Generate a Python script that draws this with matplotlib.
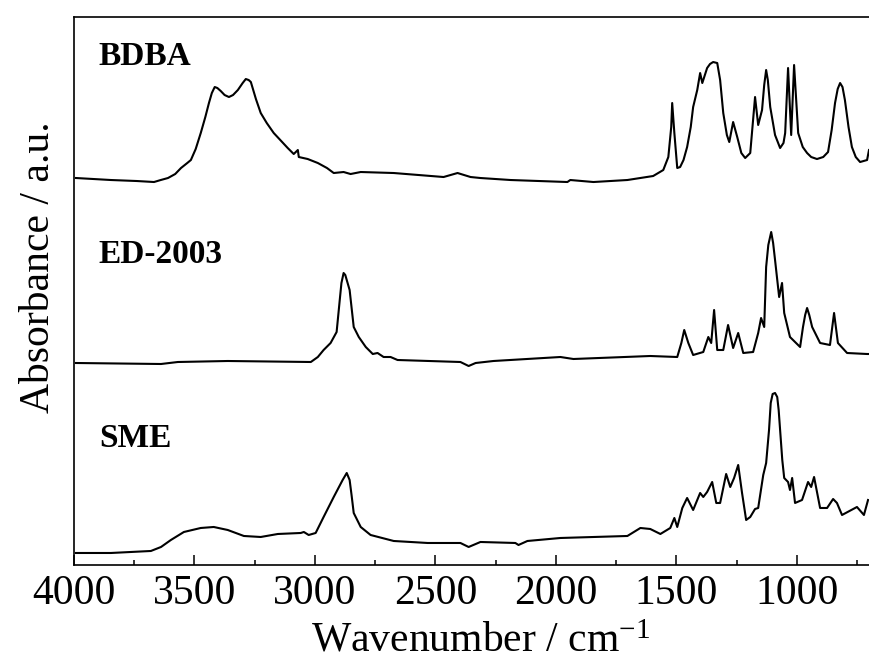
import matplotlib
matplotlib.use("Agg")
import matplotlib.pyplot as plt
from matplotlib.ticker import MultipleLocator

plt.rcParams['font.family'] = ['Liberation Serif', 'DejaVu Serif']
plt.rcParams['mathtext.fontset'] = 'custom'
plt.rcParams['mathtext.rm'] = 'Liberation Serif'
plt.rcParams['mathtext.it'] = 'Liberation Serif:italic'

# FTIR spectra (wavenumber in cm-1, absorbance in a.u., stacked)
bdba_wn = [3992, 3847, 3740, 3668, 3640, 3610, 3580, 3556, 3530, 3515, 3495, 3474,
           3455, 3440, 3428, 3416, 3405, 3391, 3375, 3357, 3340, 3320, 3300, 3287,
           3275, 3266, 3245, 3225, 3200, 3171, 3140, 3113, 3088, 3071, 3067, 3030,
           2988, 2950, 2922, 2881, 2852, 2810, 2673, 2466, 2408, 2354, 2313, 2188,
           1952, 1940, 1844, 1703, 1596, 1554, 1533, 1521, 1517, 1508, 1496, 1484,
           1470, 1455, 1440, 1430, 1413, 1401, 1392, 1372, 1360, 1347, 1330, 1318,
           1305, 1290, 1280, 1264, 1247, 1230, 1214, 1193, 1173, 1160, 1144, 1135,
           1127, 1120, 1110, 1090, 1069, 1055, 1048, 1036, 1023, 1011, 994, 975,
           957, 940, 916, 890, 870, 855, 841, 830, 820, 810, 800, 785,
           771, 755, 737, 708, 700]
bdba_abs = [3.87, 3.85, 3.84, 3.83, 3.85, 3.87, 3.91, 3.97, 4.02, 4.05, 4.16, 4.32,
            4.48, 4.62, 4.72, 4.78, 4.77, 4.74, 4.70, 4.68, 4.70, 4.75, 4.82, 4.86,
            4.85, 4.83, 4.66, 4.52, 4.42, 4.32, 4.24, 4.17, 4.11, 4.15, 4.08, 4.06,
            4.02, 3.97, 3.92, 3.93, 3.91, 3.93, 3.92, 3.88, 3.92, 3.88, 3.87, 3.85,
            3.83, 3.85, 3.83, 3.85, 3.89, 3.95, 4.08, 4.38, 4.62, 4.32, 3.97, 3.98,
            4.05, 4.18, 4.38, 4.58, 4.75, 4.92, 4.82, 4.97, 5.01, 5.03, 5.02, 4.85,
            4.52, 4.30, 4.23, 4.43, 4.28, 4.12, 4.07, 4.12, 4.68, 4.40, 4.55, 4.80,
            4.95, 4.85, 4.58, 4.30, 4.17, 4.22, 4.32, 4.97, 4.30, 5.00, 4.32, 4.18,
            4.12, 4.08, 4.06, 4.08, 4.13, 4.35, 4.62, 4.76, 4.82, 4.78, 4.65, 4.38,
            4.18, 4.08, 4.03, 4.05, 4.15]

ed_wn = [3992, 3639, 3569, 3362, 3017, 2988, 2964, 2935, 2910, 2897, 2890, 2881,
         2874, 2868, 2856, 2839, 2818, 2789, 2760, 2740, 2715, 2686, 2657, 2396,
         2362, 2333, 2259, 1981, 1927, 1608, 1496, 1479, 1467, 1450, 1430, 1388,
         1367, 1355, 1343, 1330, 1305, 1285, 1264, 1243, 1222, 1181, 1160, 1148,
         1135, 1127, 1118, 1106, 1098, 1090, 1073, 1061, 1052, 1028, 986, 974,
         965, 957, 948, 936, 903, 862, 845, 829, 791, 708, 700]
ed_abs = [2.02, 2.01, 2.03, 2.04, 2.03, 2.08, 2.15, 2.22, 2.33, 2.65, 2.82, 2.92,
          2.90, 2.85, 2.75, 2.38, 2.28, 2.18, 2.11, 2.12, 2.08, 2.08, 2.05, 2.03,
          1.99, 2.02, 2.04, 2.08, 2.06, 2.09, 2.08, 2.22, 2.35, 2.22, 2.10, 2.13,
          2.28, 2.22, 2.55, 2.15, 2.15, 2.40, 2.17, 2.32, 2.12, 2.13, 2.32, 2.47,
          2.38, 2.98, 3.20, 3.33, 3.22, 3.05, 2.68, 2.82, 2.52, 2.28, 2.18, 2.38,
          2.50, 2.57, 2.50, 2.38, 2.22, 2.20, 2.52, 2.22, 2.12, 2.11, 2.11]

sme_wn = [3992, 3847, 3681, 3639, 3598, 3544, 3474, 3420, 3362, 3295, 3225, 3154,
          3059, 3046, 3026, 2997, 2964, 2922, 2885, 2868, 2856, 2848, 2839, 2810,
          2769, 2673, 2532, 2396, 2362, 2313, 2168, 2155, 2118, 1981, 1703, 1649,
          1608, 1566, 1525, 1508, 1496, 1475, 1455, 1430, 1401, 1388, 1372, 1351,
          1334, 1318, 1293, 1276, 1260, 1243, 1227, 1210, 1193, 1173, 1160, 1139,
          1127, 1115, 1108, 1100, 1090, 1081, 1075, 1069, 1060, 1052, 1036, 1028,
          1019, 1007, 978, 953, 940, 928, 903, 874, 849, 833, 812, 750,
          721, 704]
sme_abs = [0.12, 0.12, 0.14, 0.18, 0.25, 0.33, 0.37, 0.38, 0.35, 0.29, 0.28, 0.31,
           0.32, 0.33, 0.30, 0.32, 0.48, 0.68, 0.85, 0.92, 0.85, 0.70, 0.52, 0.38,
           0.30, 0.24, 0.22, 0.22, 0.18, 0.23, 0.22, 0.20, 0.24, 0.27, 0.29, 0.37,
           0.36, 0.31, 0.37, 0.47, 0.38, 0.57, 0.67, 0.55, 0.72, 0.68, 0.73, 0.83,
           0.62, 0.62, 0.91, 0.78, 0.87, 1.00, 0.72, 0.45, 0.48, 0.56, 0.57, 0.90,
           1.02, 1.35, 1.62, 1.71, 1.72, 1.68, 1.55, 1.35, 1.05, 0.87, 0.83, 0.75,
           0.87, 0.62, 0.65, 0.83, 0.78, 0.88, 0.57, 0.57, 0.66, 0.62, 0.50, 0.58,
           0.50, 0.65]

names = ['BDBA', 'ED-2003', 'SME']
name_pos = [(3900, 5.00), (3900, 3.02), (3896, 1.18)]

fig = plt.figure(figsize=(8.69, 6.65), dpi=100)
ax = fig.add_axes([0.0852, 0.1504, 0.9148, 0.824])

for wn, ab in [(bdba_wn, bdba_abs), (ed_wn, ed_abs), (sme_wn, sme_abs)]:
    ax.plot(wn, ab, color='black', lw=1.5, solid_joinstyle='round')

for name, (xx, yy) in zip(names, name_pos):
    ax.text(xx, yy, name, fontsize=24, fontweight='bold', va='baseline', ha='left')

ax.set_xlim(4000, 700)
ax.set_ylim(0, 5.48)
ax.set_yticks([])
ax.xaxis.set_major_locator(MultipleLocator(500))
ax.xaxis.set_minor_locator(MultipleLocator(250))
ax.tick_params(axis='x', which='major', direction='in', length=7.2, width=1.1,
               labelsize=30, pad=6.5, top=False)
ax.tick_params(axis='x', which='minor', direction='in', length=3.6, width=1.1, top=False)
ax.spines['right'].set_visible(False)
for s in ['left', 'top', 'bottom']:
    ax.spines[s].set_linewidth(1.2)

ax.set_xlabel('Wavenumber / cm$^{-1}$', fontsize=30)
ax.set_ylabel('Absorbance / a.u.', fontsize=30)
ax.xaxis.set_label_coords(0.511, -0.104)
ax.yaxis.set_label_coords(-0.02, 0.544)

fig.savefig('out.png', dpi=100)
